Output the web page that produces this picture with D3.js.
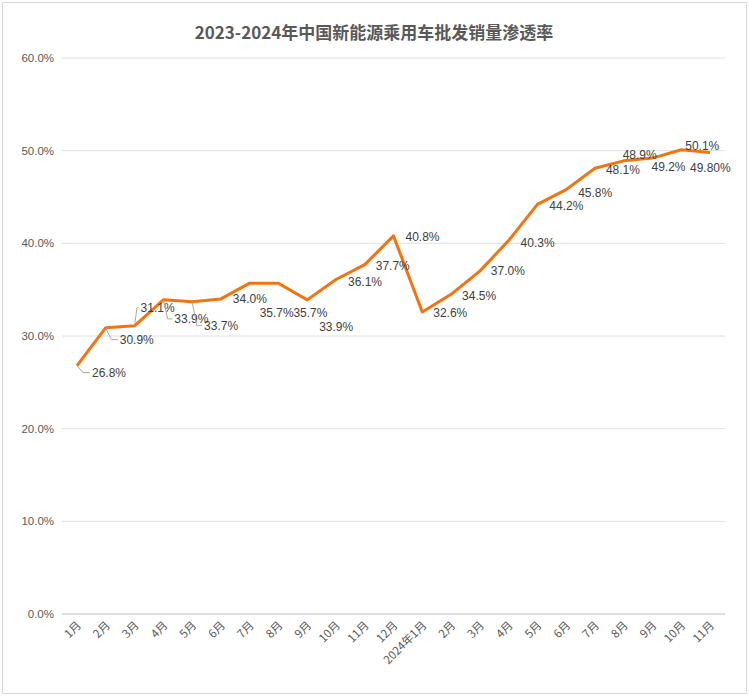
<!DOCTYPE html>
<html><head><meta charset="utf-8">
<script src="https://cdn.jsdelivr.net/npm/d3@7"></script>
<style>body{margin:0;background:#fff;font-family:"Liberation Sans","Noto Sans CJK SC",sans-serif}</style>
</head><body><svg id="c" width="749" height="696"></svg>
<script>
const categories=["1月","2月","3月","4月","5月","6月","7月","8月","9月","10月","11月","12月","2024年1月","2月","3月","4月","5月","6月","7月","8月","9月","10月","11月"];
const values=[26.8,30.9,31.1,33.9,33.7,34.0,35.7,35.7,33.9,36.1,37.7,40.8,32.6,34.5,37.0,40.3,44.2,45.8,48.1,48.9,49.2,50.1,49.8];
const labels=["26.8%","30.9%","31.1%","33.9%","33.7%","34.0%","35.7%","35.7%","33.9%","36.1%","37.7%","40.8%","32.6%","34.5%","37.0%","40.3%","44.2%","45.8%","48.1%","48.9%","49.2%","50.1%","49.80%"];
const labelDx=[15,14,6,11,12,12,10,15,12,12,11,12,11,11,11,12,12,12,11,-1,-1,4,-20];
const labelDy=[7,12,-18,19,24,0,30,30,27,3,1,1,1,2,0,2,2,3,2,-6,9,-4,15];
const leader=[1,1,1,1,1,0,0,0,0,0,0,0,0,0,0,0,0,0,0,0,0,0,0];
const yTicks=[0,10,20,30,40,50,60];
const title="2023-2024年中国新能源乘用车批发销量渗透率";

const svg=d3.select("#c");
svg.append("rect").attr("x",2.5).attr("y",2.5).attr("width",744).attr("height",691).attr("fill","#fff").attr("stroke","#d9d9d9");
svg.append("text").attr("x",374).attr("y",39).attr("text-anchor","middle").attr("font-size",17).attr("font-weight","bold").attr("fill","#595959").attr("font-family","Noto Sans CJK SC").text(title);
const x=d3.scalePoint().domain(d3.range(categories.length)).range([77,710]);
const y=d3.scaleLinear().domain([0,60]).range([614,58]);
const g=svg.append("g");
g.selectAll(".grid").data(yTicks).join("line").attr("x1",62).attr("x2",725).attr("y1",d=>y(d)).attr("y2",d=>y(d)).attr("stroke",d=>d===0?"#bfbfbf":"#e0e0e0");
g.selectAll(".yl").data(yTicks).join("text").attr("x",54).attr("y",d=>y(d)+4).attr("text-anchor","end").attr("font-size",11.5).attr("fill","#595959").text(d=>d.toFixed(1)+"%");
g.selectAll(".xl").data(categories).join("text").attr("transform",(d,i)=>`translate(${x(i)+5},${626}) rotate(-45)`).attr("text-anchor","end").attr("font-size",11.5).attr("fill","#595959").attr("font-family","Noto Sans CJK SC").text(d=>d);
const line=d3.line().x((d,i)=>x(i)).y(d=>y(d));
g.append("path").datum(values).attr("d",line).attr("fill","none").attr("stroke","#f4730f").attr("stroke-width",3).attr("stroke-linejoin","round");
values.forEach((v,i)=>{
  const px=x(i),py=y(v);
  if(leader[i]) g.append("polyline").attr("points",`${px},${py} ${px+labelDx[i]*0.4},${py+labelDy[i]} ${px+labelDx[i]-2},${py+labelDy[i]}`).attr("fill","none").attr("stroke","#a6a6a6");
  g.append("text").attr("x",px+labelDx[i]).attr("y",py+labelDy[i]+4).attr("font-size",12).attr("fill","#404040").text(labels[i]);
});
</script></body></html>
